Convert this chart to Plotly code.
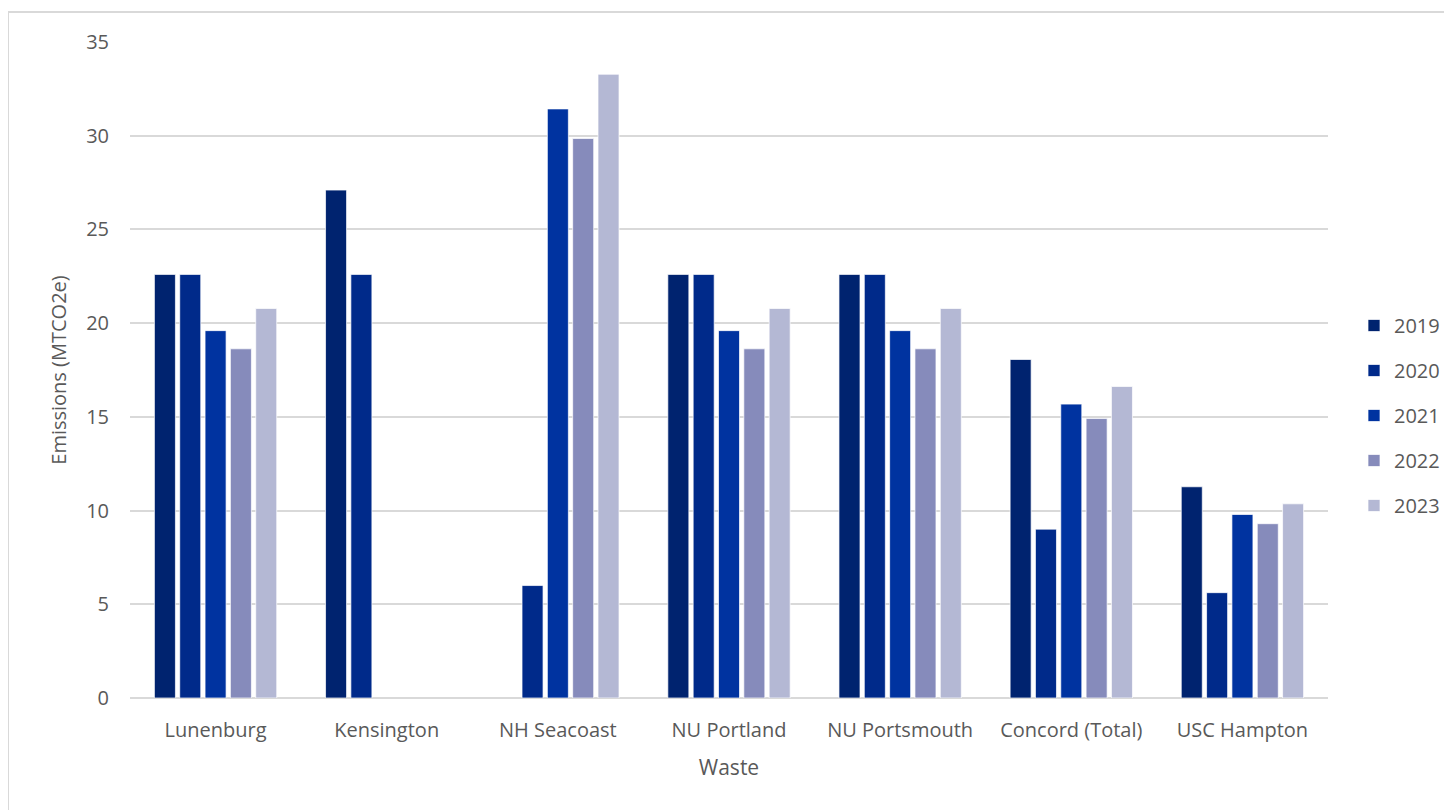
import plotly.graph_objects as go

categories = ["Lunenburg", "Kensington", "NH Seacoast", "NU Portland",
              "NU Portsmouth", "Concord (Total)", "USC Hampton"]
years = ["2019", "2020", "2021", "2022", "2023"]

v2019 = [22.6, 27.1, None, 22.6, 22.6, 18.06, 11.27]
v2020 = [22.6, 22.6, 6.0, 22.6, 22.6, 9.01, 5.62]
v2021 = [19.6, None, 31.43, 19.6, 19.6, 15.68, 9.79]
v2022 = [18.63, None, 29.85, 18.63, 18.63, 14.91, 9.30]
v2023 = [20.78, None, 33.28, 20.78, 20.78, 16.62, 10.36]
series = [v2019, v2020, v2021, v2022, v2023]
colors = ["#00236F", "#002A8A", "#0033A0", "#868BBB", "#B4B8D4"]

y_ticks = [0, 5, 10, 15, 20, 25, 30, 35]

FONT = "Open Sans"
GREY = "#595959"

fig = go.Figure()
for yr, vals, c in zip(years, series, colors):
    fig.add_trace(go.Bar(
        name=yr, x=categories, y=vals, legendgroup=yr,
        marker=dict(color=c, line=dict(color="rgba(255,255,255,0.7)", width=1)),
    ))

OFF = 8  # page body margin
W, H = 1452, 810
L = 130 - OFF
T = 42 - OFF
R = W - (1328 - OFF)
B = H - (698 - OFF)
pw, ph = W - L - R, H - T - B

def px(x):
    return (x - OFF - L) / pw

def py(y):
    return (H - B - (y - OFF)) / ph

fig.update_layout(
    width=W, height=H,
    margin=dict(l=L, r=R, t=T, b=B, autoexpand=False),
    paper_bgcolor="white", plot_bgcolor="white",
    barmode="group", bargap=0.26, bargroupgap=0.17,
    font=dict(family=FONT, size=20, color=GREY),
    showlegend=True,
    legend=dict(x=px(1354), y=py(306), xanchor="left", yanchor="top",
                font=dict(family=FONT, size=20, color=GREY),
                itemwidth=30, tracegroupgap=16, traceorder="grouped",
                bgcolor="rgba(0,0,0,0)"),
    xaxis=dict(
        title=dict(text="Waste", font=dict(family=FONT, size=21, color=GREY), standoff=18),
        showgrid=False, showline=False, zeroline=False,
        ticks="", tickfont=dict(family=FONT, size=20, color=GREY),
        ticklabelstandoff=18,
    ),
    yaxis=dict(
        title=dict(text="Emissions (MTCO2e)", font=dict(family=FONT, size=20, color=GREY), standoff=14),
        range=[0, 35], tickvals=y_ticks,
        showgrid=True, gridcolor="#D9D9D9", gridwidth=2,
        zeroline=True, zerolinecolor="#D9D9D9", zerolinewidth=2,
        showline=False, ticks="",
        tickfont=dict(family=FONT, size=20, color=GREY),
        ticklabelstandoff=20,
    ),
    shapes=[dict(type="rect", xref="paper", yref="paper",
                 x0=px(8), x1=px(1480), y0=py(840), y1=py(12),
                 line=dict(color="#D9D9D9", width=2), fillcolor="rgba(0,0,0,0)",
                 layer="below")],
)

fig.write_html("out.html")
